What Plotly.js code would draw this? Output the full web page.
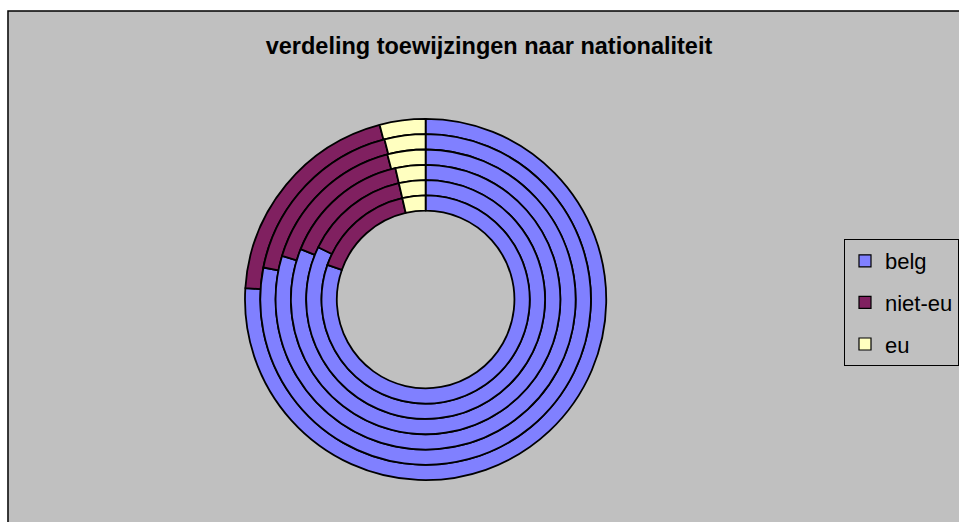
<!DOCTYPE html>
<html>
<head>
<meta charset="utf-8">
<script src="https://cdn.plot.ly/plotly-3.0.1.min.js"></script>
<style>html,body{margin:0;padding:0;background:#fff;}#chart{width:959px;height:522px;}</style>
</head>
<body>
<div id="chart"></div>
<script>
// categories
var categories = ['belg', 'niet-eu', 'eu'];
// ring values, outermost ring first (percent)
var belg   = [76.0, 78.1, 79.7, 81.1, 82.2, 80.4];
var nietEu = [19.9, 17.9, 16.2, 15.3, 14.2, 16.0];
var eu     = [4.1, 4.0, 4.1, 3.6, 3.6, 3.6];
var colors = ['#8080FF', '#802060', '#FFFFC0'];
var titleText = 'verdeling toewijzingen naar nationaliteit';

var W = 959, H = 522;
var cx = 426.5, cy = 299.5;          // ring centre (px)
var rOuter = 181, rHole = 89;
var nRings = belg.length;
var ringW = (rOuter - rHole) / nRings;

var traces = [];
for (var k = 0; k < nRings; k++) {
  var R = rOuter - k * ringW;
  traces.push({
    type: 'pie',
    labels: categories,
    values: [belg[k], nietEu[k], eu[k]],
    sort: false,
    direction: 'clockwise',
    rotation: 0,
    hole: (R - ringW) / R,
    textinfo: 'none',
    hoverinfo: 'label+value',
    showlegend: false,
    marker: {colors: colors, line: {color: '#000', width: 1.8}},
    domain: {
      x: [(cx - R) / W, (cx + R) / W],
      y: [(H - cy - R) / H, (H - cy + R) / H]
    }
  });
}
// legend entries
for (var i = 0; i < categories.length; i++) {
  traces.push({
    type: 'bar', x: [null], y: [null], name: categories[i],
    legendgroup: 'g' + i, showlegend: true, hoverinfo: 'skip',
    marker: {color: colors[i], line: {color: '#000', width: 1.2}}
  });
}

var layout = {
  width: W, height: H,
  margin: {l: 0, r: 0, t: 0, b: 0},
  paper_bgcolor: '#ffffff',
  plot_bgcolor: 'rgba(0,0,0,0)',
  font: {family: '"Liberation Sans", Arial, sans-serif', color: '#000'},
  title: {
    text: '<b>' + titleText + '</b>',
    font: {size: 23.5, family: '"Liberation Sans", Arial, sans-serif', color: '#000'},
    x: 490 / W, xanchor: 'center', xref: 'paper',
    y: 1 - 46 / H, yanchor: 'middle', yref: 'container'
  },
  xaxis: {visible: false, fixedrange: true},
  yaxis: {visible: false, fixedrange: true},
  showlegend: true,
  legend: {
    x: 846 / W, xanchor: 'left',
    y: 1 - 239 / H, yanchor: 'top',
    bgcolor: '#C0C0C0', bordercolor: '#000', borderwidth: 1,
    font: {size: 22, family: '"Liberation Sans", Arial, sans-serif', color: '#000'},
    tracegroupgap: 10,
    traceorder: 'grouped'
  },
  shapes: [{
    type: 'rect', xref: 'paper', yref: 'paper', layer: 'below',
    x0: 8 / W, x1: 1.05, y0: -0.05, y1: 1 - 11 / H,
    fillcolor: '#C0C0C0', line: {color: '#000', width: 1.5}
  }]
};

Plotly.newPlot('chart', traces, layout, {displayModeBar: false, staticPlot: true});
</script>
</body>
</html>
